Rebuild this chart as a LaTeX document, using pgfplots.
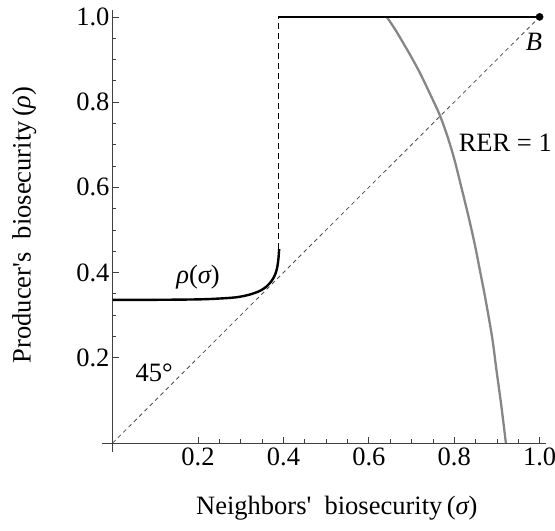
\documentclass[border=0pt]{standalone}
\usepackage{fontspec}
\setmainfont{Liberation Serif}
\usepackage{pgfplots}
\pgfplotsset{compat=1.18}
\begin{document}
\begin{tikzpicture}[font=\fontsize{26.5bp}{30bp}\selectfont]
\begin{axis}[
  scale only axis, width=444bp, height=441bp,
  xmin=-0.025, xmax=1.015, ymin=-0.02, ymax=1.015,
  axis lines=middle,
  axis line style={-, black!75, line width=0.8bp},
  xtick={0.2,0.4,0.6,0.8,1.0}, ytick={0.2,0.4,0.6,0.8,1.0},
  minor tick num=3,
  tick align=inside,
  major tick length=6bp, minor tick length=3.5bp,
  every tick/.style={black!75, line width=0.7bp},
  tick label style={font=\fontsize{26.5bp}{30bp}\selectfont},
  label style={font=\fontsize{26.5bp}{30bp}\selectfont},
  xticklabel style={anchor=north, inner sep=2bp, yshift=-3bp},
  yticklabel style={anchor=east, inner sep=2bp, xshift=-1bp},
  xticklabels={0.2,0.4,0.6,0.8,1.0},
  yticklabels={0.2,0.4,0.6,0.8,1.0},
  clip=false,
  xlabel={Neighbors\textquotesingle\ \ biosecurity\,({\itshape σ})},
  ylabel={Producer\textquotesingle s\ \ biosecurity\,({\itshape ρ})},
  xlabel style={at={(axis description cs:0.529,-0.128)}, anchor=center},
  ylabel style={at={(axis description cs:-0.175,0.514)}, anchor=center, rotate=90},
]
\coordinate (sw) at (axis cs:-0.025,-0.02);
% 45 degree line
\addplot[black!70, line width=0.8bp, dash pattern=on 4bp off 3.5bp] coordinates {(0,0) (1,1)};
% RER = 1 curve
\addplot[gray!95, line width=2.3bp, smooth] coordinates {
(0.642,1.0)(0.662,0.970)(0.681,0.938)(0.700,0.905)(0.720,0.868)(0.743,0.820)
(0.766,0.770)(0.784,0.720)(0.800,0.667)(0.818,0.595)(0.835,0.525)(0.849,0.462)
(0.860,0.406)(0.870,0.355)(0.880,0.300)(0.890,0.240)(0.899,0.171)(0.910,0.090)(0.921,0.0)};
% rho(sigma) lower branch
\addplot[black, line width=2.4bp, smooth] coordinates {
(0,0.336)(0.10,0.336)(0.20,0.337)(0.25,0.339)(0.29,0.342)(0.32,0.348)(0.345,0.357)
(0.360,0.367)(0.372,0.380)(0.380,0.394)(0.385,0.410)(0.388,0.430)(0.390,0.455)};
% jump
\addplot[black, line width=1.1bp, dash pattern=on 6bp off 4bp] coordinates {(0.388,0.455)(0.388,1.0)};
% upper branch
\addplot[black, line width=2.4bp] coordinates {(0.388,1.0)(1.0,1.0)};
\addplot[black, only marks, mark=*, mark size=3.6bp] coordinates {(1.0,1.0)};
\node at (axis cs:0.20,0.39) {{\itshape ρ}({\itshape σ})};
\node at (axis cs:0.097,0.165) {45°};
\node[anchor=east, inner sep=0pt] at (axis cs:1.029,0.704) {RER = 1};
\node at (axis cs:0.987,0.942) {\itshape B};
\end{axis}
\pgfresetboundingbox
\path (sw) ++(-102bp,-79.5bp) rectangle ++(555bp,531bp);
\end{tikzpicture}
\end{document}
